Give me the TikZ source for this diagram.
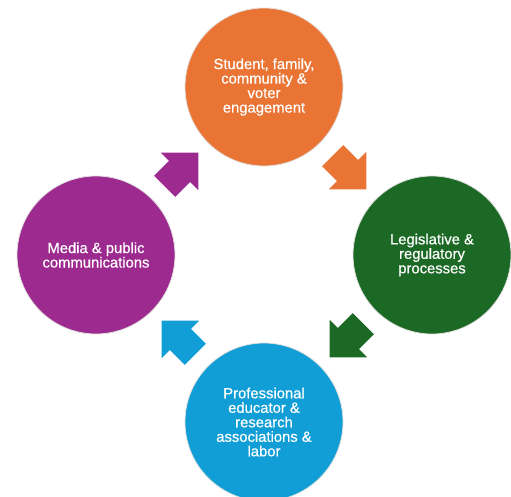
\documentclass[tikz,border=0pt]{standalone}
\usepackage{fontspec}
\setmainfont{Liberation Sans}
\newfontfamily\lblfont{Liberation Sans}[FakeBold=0.6]
\usetikzlibrary{calc}
\definecolor{corange}{RGB}{233,116,52}
\definecolor{cgreen}{RGB}{28,105,38}
\definecolor{cpurple}{RGB}{157,42,143}
\definecolor{cblue}{RGB}{17,158,214}
\begin{document}
\begin{tikzpicture}[x=1pt,y=-1pt,
  bub/.style={circle,minimum size=158pt,inner sep=0pt,draw=black!12,line width=0.8pt,
    text=white,align=center,font=\lblfont\fontsize{14.8}{14.5}\selectfont},
  blockarrow/.pic={\fill (-23,-15) -- (-2,-15) -- (-2,-26.5) -- (24.5,0) -- (-2,26.5) -- (-2,15) -- (-23,15) -- cycle;}]
\useasboundingbox (0,0) rectangle (511,497);
\clip (0,0) rectangle (511,497);
\node[bub,fill=corange] (top) at (264,87) {Student, family,\\community \&\\voter\\engagement};
\node[bub,fill=cgreen] (right) at (432,255) {Legislative \&\\regulatory\\processes};
\node[bub,fill=cblue] (bottom) at (264,422) {Professional\\educator \&\\research\\associations \&\\labor};
\node[bub,fill=cpurple] (left) at (96,255) {Media \& public\\communications};
\coordinate (c) at (264,255);
\pic[fill=corange,rotate=-45] at ($(c)+(85,-83)$) {blockarrow};
\pic[fill=cgreen,rotate=-135] at ($(c)+(83,85)$) {blockarrow};
\pic[fill=cblue,rotate=135] at ($(c)+(-85,83)$) {blockarrow};
\pic[fill=cpurple,rotate=45] at ($(c)+(-83,-85)$) {blockarrow};
\end{tikzpicture}
\end{document}
